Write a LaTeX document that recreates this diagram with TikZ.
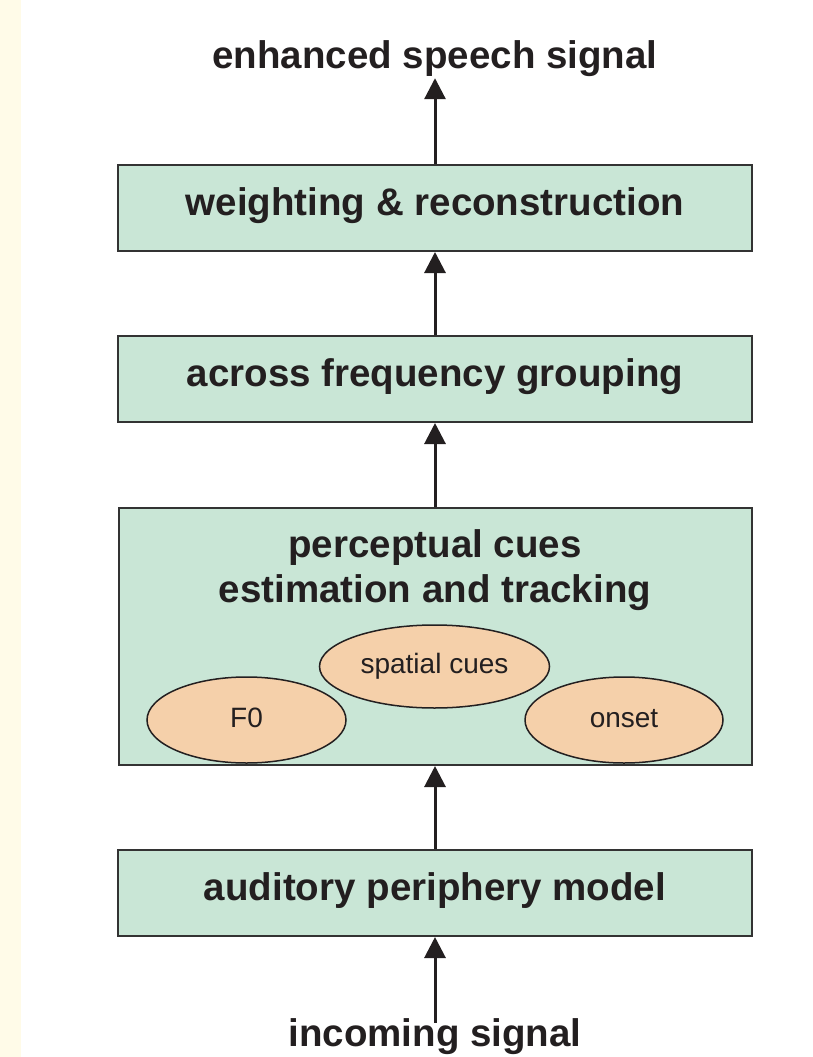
\documentclass[tikz,border=0pt]{standalone}
\usepackage{fontspec}
\setmainfont{Liberation Sans}
\usetikzlibrary{shapes.geometric,arrows.meta}
\definecolor{boxfill}{HTML}{C9E6D6}
\definecolor{ellfill}{HTML}{F5D0AA}
\definecolor{txt}{HTML}{231F20}
\definecolor{edge}{HTML}{333333}
\definecolor{strip}{HTML}{FFFBE8}
\begin{document}
\begin{tikzpicture}[x=1pt,y=-1pt,
  stagebox/.style={draw=edge,line width=2pt,fill=boxfill,minimum width=634pt,minimum height=86pt,inner sep=0pt,
    font=\fontsize{38.5}{44}\selectfont\bfseries,text=txt,text height=27pt,text depth=12pt},
  bigbox/.style={draw=edge,line width=2pt,fill=boxfill,minimum width=633pt,minimum height=257pt,inner sep=0pt},
  boldtext/.style={font=\fontsize{38.5}{44}\selectfont\bfseries,text=txt,inner sep=0pt},
  cue/.style={ellipse,draw=txt,line width=1.5pt,fill=ellfill,inner sep=0pt,
    font=\fontsize{28}{32}\selectfont,text=txt,text height=20pt,text depth=6pt},
  arr/.style={draw=txt,line width=3pt,-{Triangle[width=21pt,length=21pt]}}]
\useasboundingbox (0,0) rectangle (812,1057);
\fill[strip] (0,0) rectangle (21,1057);
% boxes
\node[stagebox] (weight) at (435,208) {weighting \& reconstruction};
\node[stagebox] (group) at (435,379) {across frequency grouping};
\node[bigbox] (percept) at (435.5,636.5) {};
\node[stagebox] (periph) at (435,893) {auditory periphery model};
% perceptual box texts
\node[boldtext,anchor=base] (pline1) at (435,557) {perceptual cues};
\node[boldtext,anchor=base] (pline2) at (435,602) {estimation and tracking};
% cues
\node[cue,minimum width=230pt,minimum height=83pt] (spatial) at (434.5,666.5) {spatial cues};
\node[cue,minimum width=199pt,minimum height=86pt] (f0) at (246.5,720) {F0};
\node[cue,minimum width=198pt,minimum height=86pt] (onset) at (624,720) {onset};
% input / output
\node[boldtext,anchor=base,text depth=10pt] (out) at (435,68) {enhanced speech signal};
\node[boldtext,anchor=base,text height=23pt] (in) at (435,1046) {incoming signal};
% arrows
\draw[arr] (in.north) -- (periph.south);
\draw[arr] (periph.north) -- (percept.south -| periph.north);
\draw[arr] (percept.north -| periph.north) -- (group.south);
\draw[arr] (group.north) -- (weight.south);
\draw[arr] (weight.north) -- (out.south);
\end{tikzpicture}
\end{document}
